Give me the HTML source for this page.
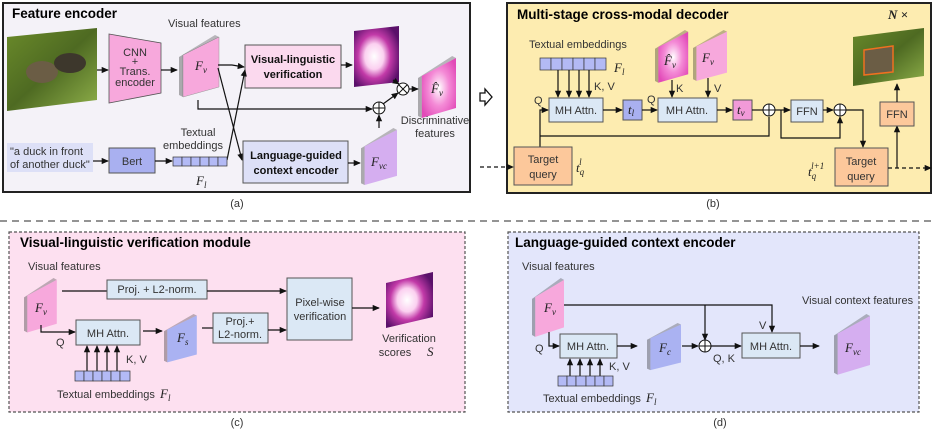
<!DOCTYPE html>
<html><head><meta charset="utf-8"><style>
html,body{margin:0;padding:0;background:#fff;}
svg{display:block;font-family:"Liberation Sans",sans-serif;}
.t{font-size:11px;fill:#333;}
.b{font-size:11px;font-weight:bold;fill:#111;}
.h{font-size:13.5px;font-weight:bold;fill:#000;}
.m{font-family:"Liberation Serif",serif;font-style:italic;fill:#222;}
.ln{stroke:#111;stroke-width:1.2;fill:none;}
</style></head><body>
<svg width="933" height="432" viewBox="0 0 933 432" xmlns="http://www.w3.org/2000/svg">
<defs>
<marker id="a" viewBox="0 0 8 8" refX="7" refY="4" markerWidth="6" markerHeight="6" orient="auto"><path d="M0,0.5 L8,4 L0,7.5z" fill="#111"/></marker>
<g id="slab">
<polygon points="0,22 36,0 40,2 4,20" fill="#000" opacity="0.25"/>
<polygon points="0,22 4,20 4,62 0,60" fill="#000" opacity="0.3"/>
</g>
<radialGradient id="mag" cx="0.5" cy="0.5" r="0.6"><stop offset="0" stop-color="#fff"/><stop offset="0.5" stop-color="#f48ad6"/><stop offset="1" stop-color="#e24ab8"/></radialGradient>
<radialGradient id="heat" cx="0.45" cy="0.5" r="0.6"><stop offset="0" stop-color="#fff"/><stop offset="0.35" stop-color="#fbd0f0"/><stop offset="0.6" stop-color="#c23aa8"/><stop offset="1" stop-color="#5a106a"/></radialGradient>
<linearGradient id="duck" x1="0" y1="0" x2="1" y2="1"><stop offset="0" stop-color="#6a8a2a"/><stop offset="0.5" stop-color="#4e6a22"/><stop offset="1" stop-color="#8fb04a"/></linearGradient>
</defs>

<!-- Panel a -->
<rect x="3" y="3" width="467" height="189" fill="#f4f2f8" stroke="#222" stroke-width="2"/>
<text x="12" y="18" class="h">Feature encoder</text>
<polygon points="7,37 97,28 97,100 7,111" fill="url(#duck)"/>
<ellipse cx="42" cy="72" rx="16" ry="11" fill="#6b5d45"/><ellipse cx="70" cy="63" rx="16" ry="10" fill="#3d372c"/>
<line x1="97" y1="70" x2="108" y2="70" class="ln" marker-end="url(#a)"/>
<polygon points="109,34 161,43 161,93 109,103" fill="#f7a8dc" stroke="#555" stroke-width="0.8"/>
<text x="135" y="56" class="t" text-anchor="middle">CNN</text><text x="135" y="65" class="t" text-anchor="middle">+</text>
<text x="135" y="75" class="t" text-anchor="middle">Trans.</text><text x="135" y="86" class="t" text-anchor="middle">encoder</text>
<line x1="161" y1="70" x2="177" y2="70" class="ln" marker-end="url(#a)"/>
<text x="168" y="27" class="t">Visual features</text>
<g transform="translate(179,35)"><polygon points="4,20 40,2 40,52 4,62" fill="#f7a8dc" stroke="#999" stroke-width="0.5"/><use href="#slab"/></g>
<text x="195" y="70" class="m" font-size="13">F<tspan font-size="9" dy="3">v</tspan></text>
<rect x="245" y="45" width="96" height="43" fill="#fbd9ee" stroke="#555"/>
<text x="293" y="63" class="b" text-anchor="middle">Visual-linguistic</text>
<text x="293" y="78" class="b" text-anchor="middle">verification</text>
<polyline points="218,65 232,65 244,67" class="ln" marker-end="url(#a)"/>
<line x1="218" y1="68" x2="242" y2="160" class="ln" marker-end="url(#a)"/>
<line x1="227" y1="160" x2="245" y2="70" class="ln" marker-end="url(#a)"/>
<line x1="341" y1="65" x2="352" y2="65" class="ln" marker-end="url(#a)"/>
<polygon points="354,31 399,26 399,82 354,87" fill="url(#heat)"/>
<circle cx="403" cy="89" r="6" fill="#fff" stroke="#111"/><path d="M399,85 L407,93 M407,85 L399,93" stroke="#111"/>
<circle cx="379" cy="108" r="6" fill="#fff" stroke="#111"/><path d="M373,108 H385 M379,102 V114" stroke="#111"/>
<polyline points="198,100 198,109 372,109" class="ln" marker-end="url(#a)"/>
<line x1="383" y1="104" x2="398" y2="93" class="ln" marker-end="url(#a)"/>
<line x1="393" y1="80" x2="399" y2="84" class="ln" marker-end="url(#a)"/>
<line x1="379" y1="128" x2="379" y2="115" class="ln" marker-end="url(#a)"/>
<line x1="409" y1="89" x2="418" y2="89" class="ln" marker-end="url(#a)"/>
<g transform="translate(418,56) scale(0.95,1)"><polygon points="4,20 40,2 40,52 4,62" fill="url(#mag)"/><use href="#slab"/></g>
<text x="431" y="93" class="m" font-size="13" fill="#fff">F̂<tspan font-size="9" dy="3">v</tspan></text>
<text x="435" y="124" class="t" text-anchor="middle">Discriminative</text><text x="435" y="137" class="t" text-anchor="middle">features</text>
<rect x="7" y="143" width="86" height="29" fill="#dde0f7"/>
<text x="10" y="155" class="t" font-size="10.5">"a duck in front</text><text x="10" y="168" class="t" font-size="10.5">of another duck"</text>
<line x1="93" y1="161" x2="108" y2="161" class="ln" marker-end="url(#a)"/>
<rect x="109" y="148" width="46" height="25" fill="#a9b0f0" stroke="#555"/>
<text x="132" y="165" class="t" text-anchor="middle" font-size="11.5">Bert</text>
<line x1="155" y1="161" x2="172" y2="161" class="ln" marker-end="url(#a)"/>
<g fill="#b3baf5" stroke="#333" stroke-width="0.7"><rect x="173" y="157" width="9" height="9"/><rect x="182" y="157" width="9" height="9"/><rect x="191" y="157" width="9" height="9"/><rect x="200" y="157" width="9" height="9"/><rect x="209" y="157" width="9" height="9"/><rect x="218" y="157" width="9" height="9"/></g>
<text x="198" y="136" class="t" text-anchor="middle">Textual</text><text x="193" y="149" class="t" text-anchor="middle">embeddings</text>
<text x="196" y="185" class="m" font-size="13">F<tspan font-size="9" dy="3">l</tspan></text>
<rect x="243" y="141" width="105" height="42" fill="#dde0f7" stroke="#555"/>
<text x="296" y="159" class="b" text-anchor="middle">Language-guided</text>
<text x="296" y="174" class="b" text-anchor="middle">context encoder</text>
<line x1="348" y1="163" x2="360" y2="163" class="ln" marker-end="url(#a)"/>
<g transform="translate(361,128) scale(0.9,0.92)"><polygon points="4,20 40,2 40,52 4,62" fill="#d5aef0"/><use href="#slab"/></g>
<text x="371" y="166" class="m" font-size="13">F<tspan font-size="9" dy="3">vc</tspan></text>
<text x="237" y="207" class="t" text-anchor="middle" font-size="12">(a)</text>

<polygon points="480,93 485,93 485,89 492,97 485,105 485,101 480,101" fill="#fff" stroke="#111" stroke-width="1.3"/>

<!-- Panel b -->
<rect x="507" y="3" width="424" height="190" fill="#fdecb0" stroke="#222" stroke-width="2"/>
<text x="517" y="19" class="h">Multi-stage cross-modal decoder</text>
<text x="888" y="19" class="m" font-size="13" font-weight="bold">N ×</text>
<text x="529" y="48" class="t">Textual embeddings</text>
<g fill="#b3baf5" stroke="#333" stroke-width="0.7"><rect x="540" y="58" width="11" height="12"/><rect x="551" y="58" width="11" height="12"/><rect x="562" y="58" width="11" height="12"/><rect x="573" y="58" width="11" height="12"/><rect x="584" y="58" width="11" height="12"/><rect x="595" y="58" width="11" height="12"/></g>
<text x="614" y="72" class="m" font-size="13">F<tspan font-size="9" dy="3">l</tspan></text>
<g class="ln"><line x1="558" y1="70" x2="558" y2="97" marker-end="url(#a)"/><line x1="569" y1="70" x2="569" y2="97" marker-end="url(#a)"/><line x1="579" y1="70" x2="579" y2="97" marker-end="url(#a)"/><line x1="589" y1="70" x2="589" y2="97" marker-end="url(#a)"/></g>
<text x="594" y="90" class="t">K, V</text>
<rect x="549" y="98" width="54" height="24" fill="#dbe8f5" stroke="#555"/>
<text x="576" y="114" class="t" text-anchor="middle">MH Attn.</text>
<text x="534" y="104" class="t">Q</text>
<polyline points="540,147 540,110 548,110" class="ln" marker-end="url(#a)"/>
<polyline points="540,136 769,136 769,117" class="ln"/>
<line x1="603" y1="110" x2="622" y2="110" class="ln" marker-end="url(#a)"/>
<rect x="623" y="100" width="19" height="20" fill="#a9b0f0" stroke="#555"/>
<text x="628" y="114" class="m" font-size="13">t<tspan font-size="9" dy="2">l</tspan></text>
<text x="647" y="103" class="t">Q</text>
<line x1="642" y1="110" x2="657" y2="110" class="ln" marker-end="url(#a)"/>
<g transform="translate(655,30) scale(0.83,0.85)"><polygon points="4,20 40,2 40,52 4,62" fill="url(#mag)"/><use href="#slab"/></g>
<text x="664" y="65" class="m" font-size="13" fill="#fff">F̂<tspan font-size="9" dy="3">v</tspan></text>
<g transform="translate(693,30) scale(0.85,0.82)"><polygon points="4,20 40,2 40,52 4,62" fill="#f7a8dc"/><use href="#slab"/></g>
<text x="702" y="62" class="m" font-size="13">F<tspan font-size="9" dy="3">v</tspan></text>
<line x1="672" y1="80" x2="672" y2="97" class="ln" marker-end="url(#a)"/><text x="676" y="92" class="t">K</text>
<line x1="708" y1="78" x2="708" y2="97" class="ln" marker-end="url(#a)"/><text x="714" y="92" class="t">V</text>
<rect x="658" y="98" width="59" height="24" fill="#dbe8f5" stroke="#555"/>
<text x="687" y="114" class="t" text-anchor="middle">MH Attn.</text>
<line x1="717" y1="110" x2="732" y2="110" class="ln" marker-end="url(#a)"/>
<rect x="733" y="100" width="19" height="20" fill="#f29ad8" stroke="#555"/>
<text x="737" y="114" class="m" font-size="13">t<tspan font-size="9" dy="2">v</tspan></text>
<line x1="752" y1="110" x2="763" y2="110" class="ln"/>
<circle cx="769" cy="110" r="6" fill="#fff" stroke="#111"/><path d="M763,110 H775 M769,104 V116" stroke="#111"/>
<line x1="775" y1="110" x2="790" y2="110" class="ln" marker-end="url(#a)"/>
<polyline points="781,110 781,138 840,138 840,117" class="ln" marker-end="url(#a)"/>
<rect x="791" y="100" width="32" height="22" fill="#dbe8f5" stroke="#555"/>
<text x="807" y="115" class="t" text-anchor="middle">FFN</text>
<line x1="823" y1="110" x2="833" y2="110" class="ln" marker-end="url(#a)"/>
<circle cx="840" cy="110" r="6" fill="#fff" stroke="#111"/><path d="M834,110 H846 M840,104 V116" stroke="#111"/>
<polyline points="846,110 863,110 863,147" class="ln" marker-end="url(#a)"/>
<rect x="514" y="147" width="58" height="38" fill="#fcc89b" stroke="#555"/>
<text x="543" y="163" class="t" text-anchor="middle" font-size="12">Target</text><text x="543" y="178" class="t" text-anchor="middle" font-size="12">query</text>
<text x="576" y="172" class="m" font-size="13">t<tspan font-size="9" dy="3">q</tspan><tspan font-size="9" dy="-10" dx="-5">l</tspan></text>
<line x1="480" y1="167" x2="513" y2="167" class="ln" stroke-dasharray="4,3" marker-end="url(#a)"/>
<rect x="835" y="148" width="53" height="38" fill="#fcc89b" stroke="#555"/>
<text x="861" y="165" class="t" text-anchor="middle" font-size="12">Target</text><text x="861" y="180" class="t" text-anchor="middle" font-size="12">query</text>
<text x="808" y="176" class="m" font-size="13">t<tspan font-size="9" dy="3">q</tspan><tspan font-size="9" dy="-10" dx="-5">l+1</tspan></text>
<line x1="888" y1="168" x2="931" y2="168" class="ln" stroke-dasharray="4,3" marker-end="url(#a)"/>
<line x1="897" y1="168" x2="897" y2="126" class="ln" marker-end="url(#a)"/>
<rect x="880" y="102" width="34" height="24" fill="#fcc89b" stroke="#555"/>
<text x="897" y="118" class="t" text-anchor="middle">FFN</text>
<line x1="897" y1="102" x2="897" y2="84" class="ln" marker-end="url(#a)"/>
<polygon points="853,37 924,28 924,76 853,86" fill="url(#duck)"/>
<polygon points="864,50 893,46 893,72 864,75" fill="#6b5d45" stroke="#f07020" stroke-width="1.5"/>
<text x="713" y="207" class="t" text-anchor="middle" font-size="12">(b)</text>

<line x1="0" y1="221" x2="933" y2="221" stroke="#555" stroke-width="1.2" stroke-dasharray="7,5"/>

<!-- Panel c -->
<rect x="9" y="232" width="456" height="180" fill="#fde0f0" stroke="#555" stroke-width="1.2" stroke-dasharray="3,2"/>
<text x="20" y="247" class="h">Visual-linguistic verification module</text>
<text x="28" y="270" class="t">Visual features</text>
<g transform="translate(24,278) scale(0.82,0.88)"><polygon points="4,20 40,2 40,52 4,62" fill="#f7a8dc"/><use href="#slab"/></g>
<text x="35" y="312" class="m" font-size="13">F<tspan font-size="9" dy="3">v</tspan></text>
<line x1="62" y1="291" x2="107" y2="291" class="ln" stroke="#555"/>
<rect x="107" y="280" width="100" height="19" fill="#dbe8f5" stroke="#555"/>
<text x="157" y="293" class="t" text-anchor="middle" font-size="10">Proj. + L2-norm.</text>
<line x1="207" y1="291" x2="286" y2="291" class="ln" marker-end="url(#a)"/>
<rect x="287" y="278" width="65" height="62" fill="#dbe8f5" stroke="#555"/>
<text x="320" y="306" class="t" text-anchor="middle">Pixel-wise</text><text x="320" y="320" class="t" text-anchor="middle">verification</text>
<line x1="352" y1="308" x2="379" y2="308" class="ln" marker-end="url(#a)"/>
<polygon points="386,283 433,272 433,317 386,328" fill="url(#heat)"/>
<text x="409" y="342" class="t" text-anchor="middle" font-size="11.5">Verification</text>
<text x="395" y="356" class="t" text-anchor="middle" font-size="11.5">scores</text><text x="427" y="356" class="m" font-size="13">S</text>
<polyline points="41,325 41,332 75,332" class="ln" marker-end="url(#a)"/>
<text x="56" y="346" class="t">Q</text>
<rect x="76" y="320" width="64" height="25" fill="#dbe8f5" stroke="#555"/>
<text x="108" y="337" class="t" text-anchor="middle">MH Attn.</text>
<line x1="143" y1="331" x2="162" y2="331" class="ln" marker-end="url(#a)"/>
<g transform="translate(164,314) scale(0.82,0.78)"><polygon points="4,20 40,2 40,52 4,62" fill="#aab2f2"/><use href="#slab"/></g>
<text x="177" y="342" class="m" font-size="13">F<tspan font-size="9" dy="3">s</tspan></text>
<line x1="202" y1="328" x2="213" y2="328" class="ln" stroke="#555"/>
<rect x="213" y="313" width="55" height="30" fill="#dbe8f5" stroke="#555"/>
<text x="240" y="325" class="t" text-anchor="middle" font-size="10">Proj.+</text><text x="240" y="338" class="t" text-anchor="middle" font-size="10">L2-norm.</text>
<line x1="268" y1="330" x2="286" y2="330" class="ln" marker-end="url(#a)"/>
<g class="ln"><line x1="87" y1="371" x2="87" y2="346" marker-end="url(#a)"/><line x1="97" y1="371" x2="97" y2="346" marker-end="url(#a)"/><line x1="107" y1="371" x2="107" y2="346" marker-end="url(#a)"/><line x1="117" y1="371" x2="117" y2="346" marker-end="url(#a)"/></g>
<text x="126" y="363" class="t">K, V</text>
<g fill="#b3baf5" stroke="#333" stroke-width="0.7"><rect x="75" y="371" width="9" height="10"/><rect x="84" y="371" width="9" height="10"/><rect x="93" y="371" width="9" height="10"/><rect x="102" y="371" width="9" height="10"/><rect x="111" y="371" width="9" height="10"/><rect x="120" y="371" width="10" height="10"/></g>
<text x="57" y="398" class="t">Textual embeddings</text><text x="160" y="398" class="m" font-size="13">F<tspan font-size="9" dy="3">l</tspan></text>
<text x="237" y="426" class="t" text-anchor="middle" font-size="12">(c)</text>

<!-- Panel d -->
<rect x="508" y="232" width="411" height="180" fill="#e3e6fb" stroke="#555" stroke-width="1.2" stroke-dasharray="3,2"/>
<text x="515" y="247" class="h">Language-guided context encoder</text>
<text x="522" y="270" class="t">Visual features</text>
<g transform="translate(532,278) scale(0.8,0.95)"><polygon points="4,20 40,2 40,52 4,62" fill="#f7a8dc"/><use href="#slab"/></g>
<text x="544" y="312" class="m" font-size="13">F<tspan font-size="9" dy="3">v</tspan></text>
<polyline points="564,305 772,305 772,332" class="ln" marker-end="url(#a)"/>
<line x1="705" y1="305" x2="705" y2="340" class="ln" marker-end="url(#a)"/>
<text x="759" y="329" class="t">V</text>
<polyline points="549,332 549,346 559,346" class="ln" marker-end="url(#a)"/>
<text x="535" y="352" class="t">Q</text>
<rect x="560" y="334" width="57" height="24" fill="#dbe8f5" stroke="#555"/>
<text x="588" y="350" class="t" text-anchor="middle">MH Attn.</text>
<line x1="617" y1="346" x2="637" y2="346" class="ln" marker-end="url(#a)"/>
<g transform="translate(647,323) scale(0.85,0.76)"><polygon points="4,20 40,2 40,52 4,62" fill="#aab2f2"/><use href="#slab"/></g>
<text x="659" y="352" class="m" font-size="13">F<tspan font-size="9" dy="3">c</tspan></text>
<line x1="682" y1="346" x2="698" y2="346" class="ln" marker-end="url(#a)"/>
<circle cx="705" cy="346" r="6" fill="#fff" stroke="#111"/><path d="M699,346 H711 M705,340 V352" stroke="#111"/>
<line x1="711" y1="346" x2="741" y2="346" class="ln" marker-end="url(#a)"/>
<text x="713" y="362" class="t">Q, K</text>
<rect x="742" y="333" width="58" height="25" fill="#dbe8f5" stroke="#555"/>
<text x="771" y="350" class="t" text-anchor="middle">MH Attn.</text>
<line x1="800" y1="346" x2="819" y2="346" class="ln" marker-end="url(#a)"/>
<g transform="translate(834,314) scale(0.9,0.98)"><polygon points="4,20 40,2 40,52 4,62" fill="#d5aef0"/><use href="#slab"/></g>
<text x="845" y="352" class="m" font-size="13">F<tspan font-size="9" dy="3">vc</tspan></text>
<text x="802" y="304" class="t">Visual context features</text>
<g class="ln"><line x1="570" y1="376" x2="570" y2="359" marker-end="url(#a)"/><line x1="580" y1="376" x2="580" y2="359" marker-end="url(#a)"/><line x1="590" y1="376" x2="590" y2="359" marker-end="url(#a)"/><line x1="600" y1="376" x2="600" y2="359" marker-end="url(#a)"/></g>
<text x="609" y="370" class="t">K, V</text>
<g fill="#b3baf5" stroke="#333" stroke-width="0.7"><rect x="558" y="376" width="9" height="10"/><rect x="567" y="376" width="9" height="10"/><rect x="576" y="376" width="10" height="10"/><rect x="586" y="376" width="9" height="10"/><rect x="595" y="376" width="9" height="10"/><rect x="604" y="376" width="9" height="10"/></g>
<text x="543" y="402" class="t">Textual embeddings</text><text x="646" y="402" class="m" font-size="13">F<tspan font-size="9" dy="3">l</tspan></text>
<text x="720" y="426" class="t" text-anchor="middle" font-size="12">(d)</text>
</svg>
</body></html>
